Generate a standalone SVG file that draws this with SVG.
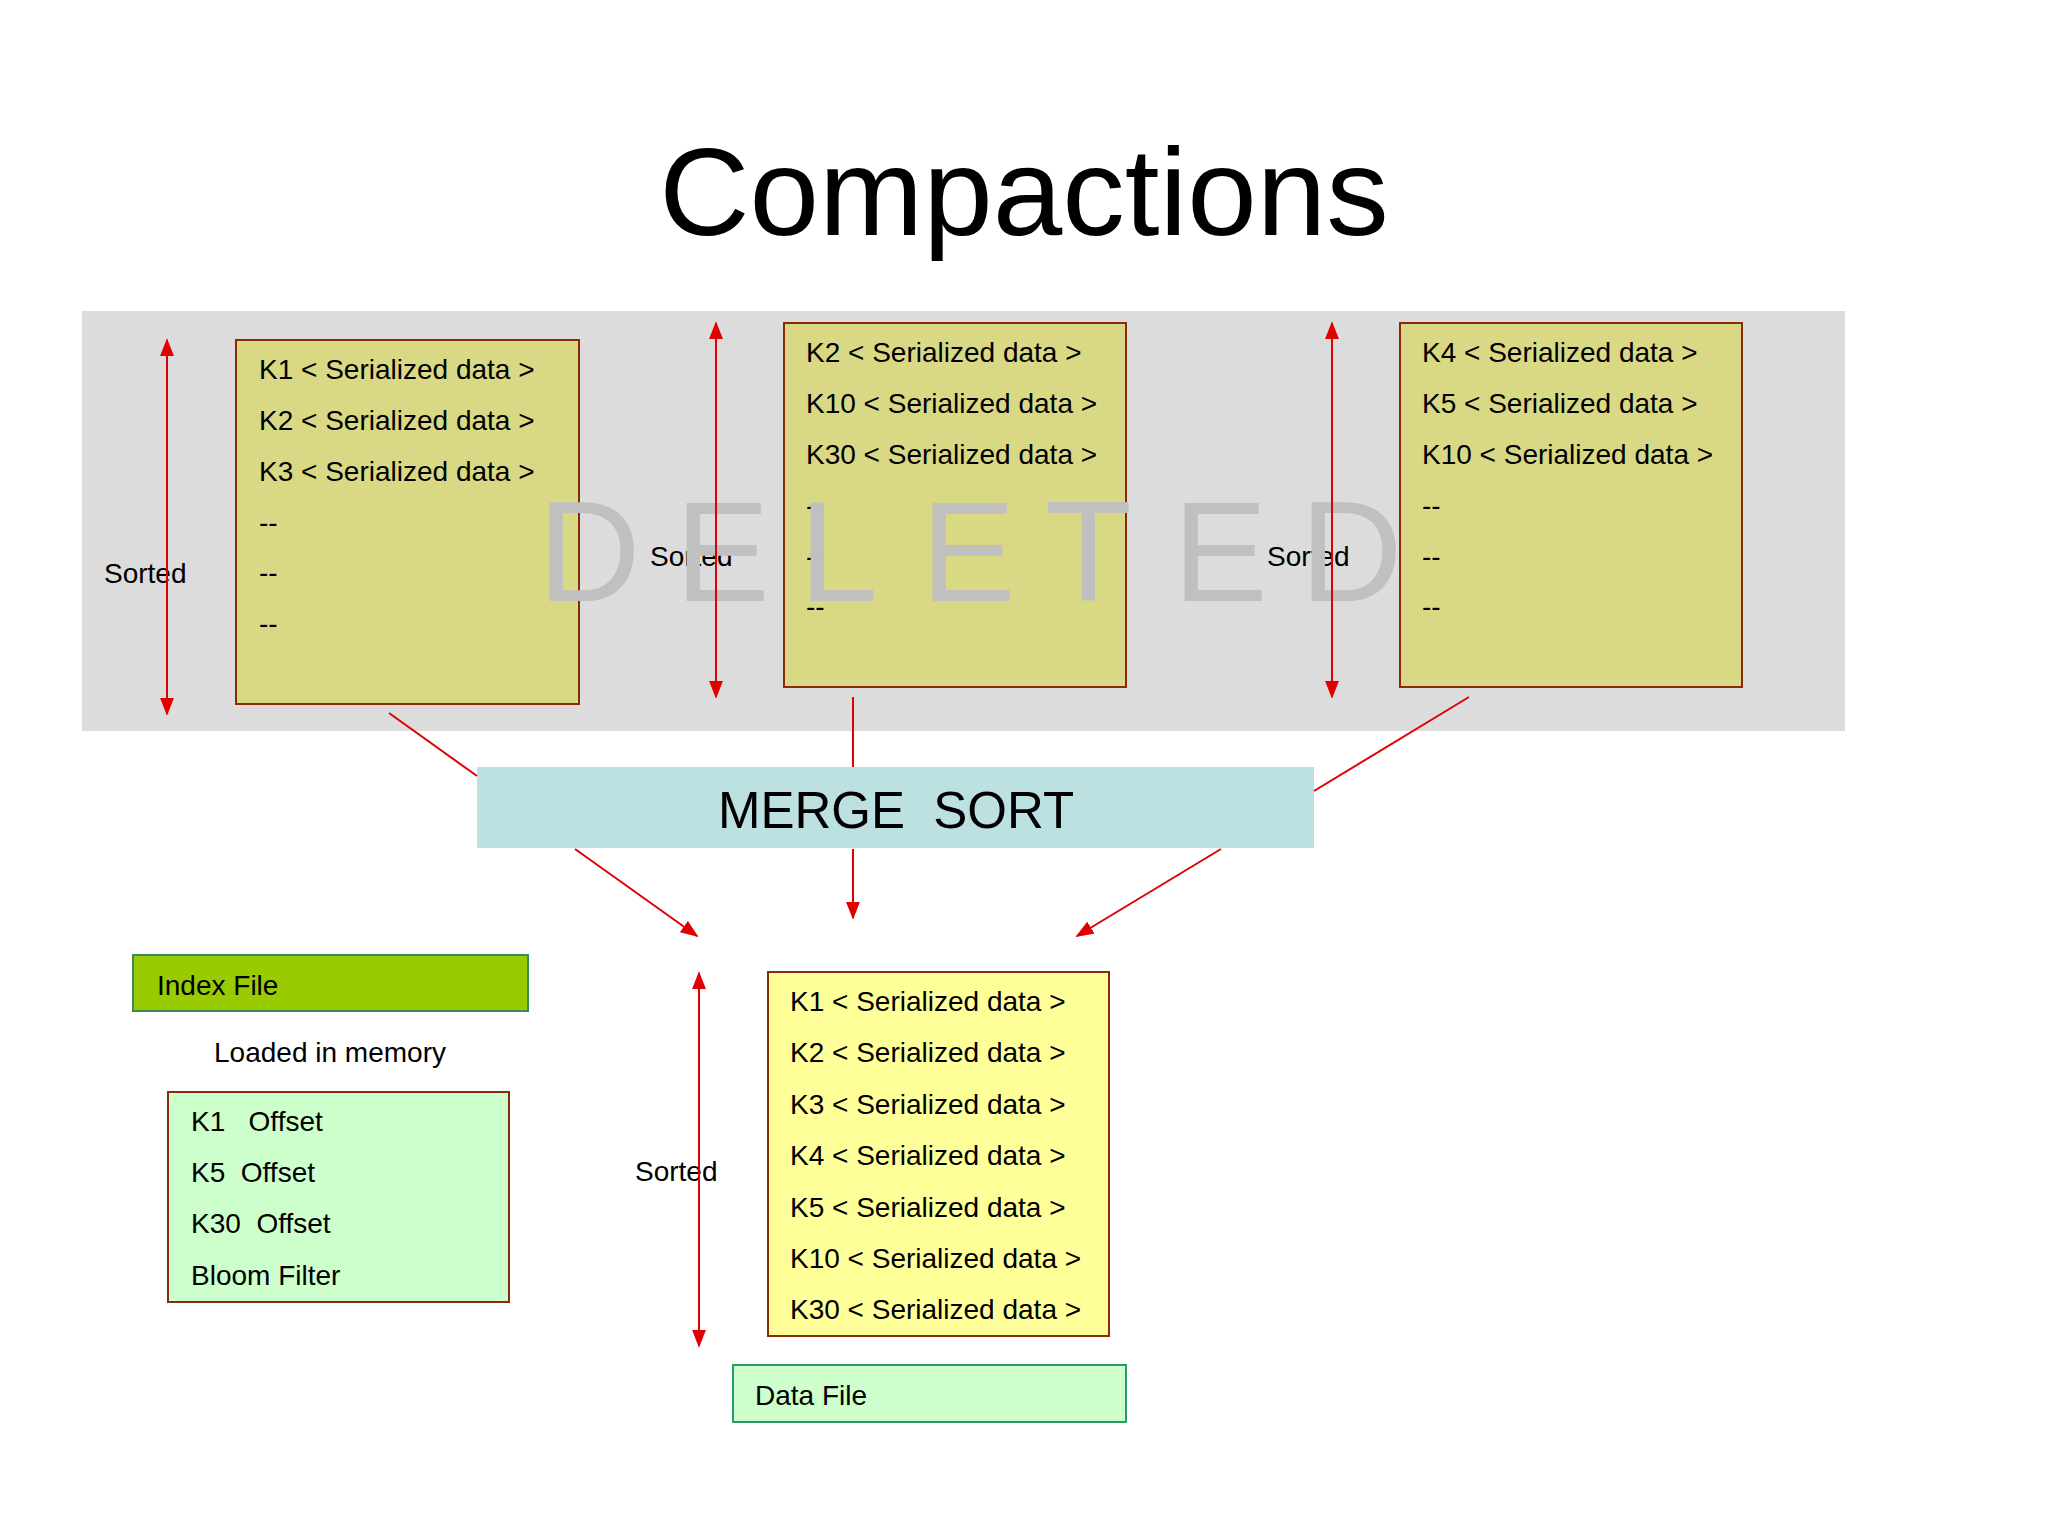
<svg xmlns="http://www.w3.org/2000/svg" width="2048" height="1534" viewBox="0 0 2048 1534">
<defs>
<marker id="ah" viewBox="0 0 10 10" refX="9" refY="5" markerWidth="18" markerHeight="14" markerUnits="userSpaceOnUse" orient="auto-start-reverse" preserveAspectRatio="none"><path d="M0,0 L10,5 L0,10 z" fill="#e00000"/></marker>
<style>
text{font-family:"Liberation Sans",Arial,sans-serif;fill:#000}
.t{font-size:28px}
.blk{fill:#d9d985;stroke:#8b2a0a;stroke-width:2}
.ln{stroke:#e00000;stroke-width:2;fill:none}
.ar{stroke:#e00000;stroke-width:2;fill:none;marker-end:url(#ah)}
.dd{stroke:#e00000;stroke-width:2;fill:none;marker-end:url(#ah);marker-start:url(#ah)}
.del{font-size:142px;fill:#c0c0c0}
</style>
</defs>
<rect width="2048" height="1534" fill="#fff"/>
<text x="1024" y="235" font-size="125" text-anchor="middle">Compactions</text>
<rect x="82" y="311" width="1763" height="420" fill="#dcdcdc"/>
<g id="box1"><rect class="blk" x="236" y="340" width="343" height="364"/>
<text class="t" x="259" y="379">K1 &lt; Serialized data &gt;</text>
<text class="t" x="259" y="430">K2 &lt; Serialized data &gt;</text>
<text class="t" x="259" y="481">K3 &lt; Serialized data &gt;</text>
<text class="t" x="259" y="532">--</text><text class="t" x="259" y="582">--</text><text class="t" x="259" y="633">--</text></g>
<g id="box2"><rect class="blk" x="784" y="323" width="342" height="364"/>
<text class="t" x="806" y="362">K2 &lt; Serialized data &gt;</text>
<text class="t" x="806" y="413">K10 &lt; Serialized data &gt;</text>
<text class="t" x="806" y="464">K30 &lt; Serialized data &gt;</text>
<text class="t" x="806" y="515">--</text><text class="t" x="806" y="566">--</text><text class="t" x="806" y="616">--</text></g>
<g id="box3"><rect class="blk" x="1400" y="323" width="342" height="364"/>
<text class="t" x="1422" y="362">K4 &lt; Serialized data &gt;</text>
<text class="t" x="1422" y="413">K5 &lt; Serialized data &gt;</text>
<text class="t" x="1422" y="464">K10 &lt; Serialized data &gt;</text>
<text class="t" x="1422" y="515">--</text><text class="t" x="1422" y="566">--</text><text class="t" x="1422" y="616">--</text></g>
<text class="t" x="104" y="583">Sorted</text>
<text class="t" x="650" y="566">Sorted</text>
<text class="t" x="1267" y="566">Sorted</text>
<g id="deleted">
<text class="del" x="538" y="601">D</text><text class="del" x="675" y="601">E</text><text class="del" x="799" y="601">L</text><text class="del" x="921" y="601">E</text><text class="del" x="1045" y="601">T</text><text class="del" x="1173" y="601">E</text><text class="del" x="1300" y="601">D</text>
</g>
<g id="merge"><rect x="477" y="767" width="837" height="81" fill="#bde0e0"/>
<text x="896" y="828" font-size="51" text-anchor="middle" xml:space="preserve">MERGE  SORT</text></g>
<g id="index"><rect x="133" y="955" width="395" height="56" fill="#99cc00" stroke="#3a8a5a" stroke-width="2"/>
<text class="t" x="157" y="995">Index File</text></g>
<text class="t" x="330" y="1062" text-anchor="middle">Loaded in memory</text>
<g id="indexbox"><rect x="168" y="1092" width="341" height="210" fill="#ccffcc" stroke="#8b2a0a" stroke-width="2"/>
<text class="t" x="191" y="1131" xml:space="preserve">K1   Offset</text>
<text class="t" x="191" y="1182" xml:space="preserve">K5  Offset</text>
<text class="t" x="191" y="1233" xml:space="preserve">K30  Offset</text>
<text class="t" x="191" y="1285">Bloom Filter</text></g>
<text class="t" x="635" y="1181">Sorted</text>
<g id="data"><rect x="768" y="972" width="341" height="364" fill="#ffff99" stroke="#8b2a0a" stroke-width="2"/>
<text class="t" x="790" y="1011">K1 &lt; Serialized data &gt;</text>
<text class="t" x="790" y="1062">K2 &lt; Serialized data &gt;</text>
<text class="t" x="790" y="1114">K3 &lt; Serialized data &gt;</text>
<text class="t" x="790" y="1165">K4 &lt; Serialized data &gt;</text>
<text class="t" x="790" y="1217">K5 &lt; Serialized data &gt;</text>
<text class="t" x="790" y="1268">K10 &lt; Serialized data &gt;</text>
<text class="t" x="790" y="1319">K30 &lt; Serialized data &gt;</text></g>
<g id="datafile"><rect x="733" y="1365" width="393" height="57" fill="#ccffcc" stroke="#2a9a6a" stroke-width="2"/>
<text class="t" x="755" y="1405">Data File</text></g>
<g id="connectors">
<line class="dd" x1="167" y1="340" x2="167" y2="714"/>
<line class="dd" x1="716" y1="323" x2="716" y2="697"/>
<line class="dd" x1="1332" y1="323" x2="1332" y2="697"/>
<line class="dd" x1="699" y1="973" x2="699" y2="1346"/>
<line class="ln" x1="389" y1="713" x2="477" y2="776"/>
<line class="ln" x1="853" y1="697" x2="853" y2="767"/>
<line class="ln" x1="1469" y1="697" x2="1314" y2="791"/>
<line class="ar" x1="575" y1="849" x2="697" y2="936"/>
<line class="ar" x1="853" y1="849" x2="853" y2="918"/>
<line class="ar" x1="1221" y1="849" x2="1077" y2="936"/>
</g>
</svg>
